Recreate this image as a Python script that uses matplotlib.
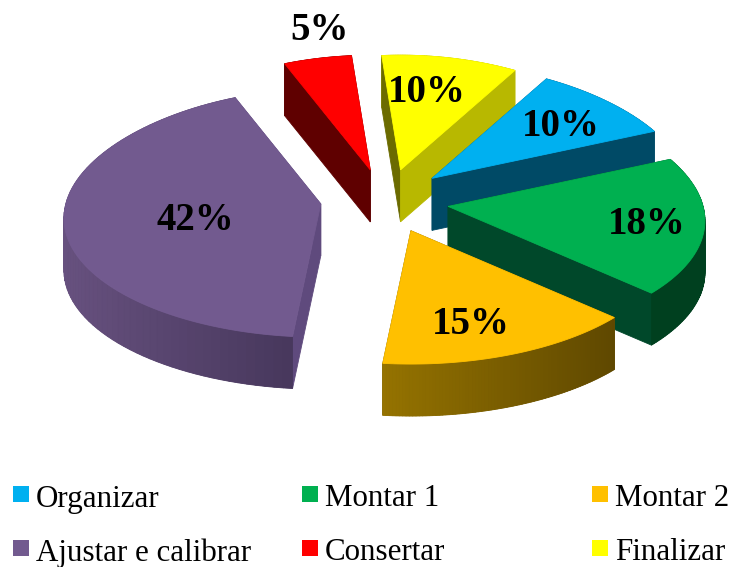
import numpy as np
import matplotlib
matplotlib.use("Agg")
import matplotlib.pyplot as plt
from matplotlib.colors import to_rgb
from matplotlib.patches import Polygon, Rectangle

labels = ["Organizar", "Montar 1", "Montar 2", "Ajustar e calibrar", "Consertar", "Finalizar"]
values = [10, 18, 15, 42, 5, 10]
top_colors = ["#00B0F0", "#00B050", "#FFC000", "#725A8F", "#FF0000", "#FFFF00"]
start_side = ["#004A66", "#00482A", "#6B5200", "#5F4A7D", "#5F0000", "#6B6B00"]
end_side = ["#004A66", "#00482A", "#6B5200", "#5F4A7D", "#5F0000", "#B8B800"]
wall_left = ["#004A66", "#00401F", "#957300", "#67517F", "#5F0000", "#B8B800"]
wall_right = ["#004A66", "#00401F", "#5F4800", "#47375C", "#5F0000", "#B8B800"]

# slices sit a bit off the plain explode
shift_x = [0, 0, 6, 9, 7, 5]
shift_y = [-2, -1, -2, -3, 0, 0]
draw_order = [4, 5, 0, 3, 1, 2]

start_angle = 31
center = (380, 202)
explode = (69, 33)
rx, ry = 255, 124
depth = 52

label_xy = [(561, 126), (647, 224), (471, 324), (195, 221), (320, 31), (427, 92)]


def project(ax_, ay_, theta, r=1.0):
    X = r * np.sin(theta)
    Y = -r * np.cos(theta)
    return ax_ + rx * X * (1 + 0.125 * Y - 0.03 * Y ** 2), ay_ + ry * (Y + 0.075 * Y ** 2)


def mix(c1, c2, t):
    c1, c2 = np.array(to_rgb(c1)), np.array(to_rgb(c2))
    return tuple(c1 + (c2 - c1) * t)


def quad(p, q, color, zorder):
    pts = [p, q, (q[0], q[1] + depth), (p[0], p[1] + depth)]
    ax.add_patch(Polygon(pts, closed=True, fc=color, ec=color, lw=0.6, zorder=zorder))


fig = plt.figure(figsize=(7.31, 5.67), dpi=100)
ax = fig.add_axes([0, 0, 1, 1])
ax.set_xlim(0, 731)
ax.set_ylim(567, 0)
ax.axis("off")

fracs = np.array(values) / sum(values)
starts = np.radians(start_angle + 360 * np.concatenate([[0], np.cumsum(fracs)[:-1]]))
ends = starts + 2 * np.pi * fracs

z = 1
for i in draw_order:
    mid = (starts[i] + ends[i]) / 2
    ax_ = center[0] + explode[0] * np.sin(mid) + shift_x[i]
    ay_ = center[1] - explode[1] * np.cos(mid) + shift_y[i]
    thetas = np.linspace(starts[i], ends[i], 80)
    rim = [project(ax_, ay_, t) for t in thetas]
    apex = (ax_, ay_)

    # faces go back to front, the top covers whatever is hidden
    faces = [(apex, rim[0], start_side[i]), (apex, rim[-1], end_side[i])]
    xs = [p[0] for p in rim]
    lo, hi = min(xs), max(xs)
    for k in range(len(rim) - 1):
        xm = (rim[k][0] + rim[k + 1][0]) / 2
        t = (xm - lo) / max(hi - lo, 1)
        faces.append((rim[k], rim[k + 1], mix(wall_left[i], wall_right[i], t)))
    faces.sort(key=lambda f: f[0][1] + f[1][1])
    # solid wall underneath so the strips leave no seams
    backing = rim + [(x, y + depth) for x, y in reversed(rim)]
    ax.add_patch(Polygon(backing, closed=True, fc=mix(wall_left[i], wall_right[i], 0.5), ec="none", zorder=z))
    z += 1
    for p, q, c in faces:
        quad(p, q, c, z)
        z += 1
    ax.add_patch(Polygon([apex] + rim, closed=True, fc=top_colors[i], ec=top_colors[i], lw=0.6, zorder=z))
    z += 1

for i, (x, y) in enumerate(label_xy):
    ax.text(x, y, f"{values[i]}%", ha="center", va="center", family="Liberation Serif",
            weight="bold", fontsize=28, color="black", zorder=z)

# legend, 3 columns by 2 rows
leg_x = [13, 302, 592]
leg_y = [494, 548]
for i, name in enumerate(labels):
    col, row = (i % 3, i // 3)
    ax.add_patch(Rectangle((leg_x[col], leg_y[row] - 8), 16, 16, fc=top_colors[i], ec="none", zorder=z))
    ax.text(leg_x[col] + 23, leg_y[row] + 5, name, ha="left", va="center", family="Liberation Serif",
            fontsize=22.3, color="black", zorder=z)

fig.savefig("out.png", dpi=100)
